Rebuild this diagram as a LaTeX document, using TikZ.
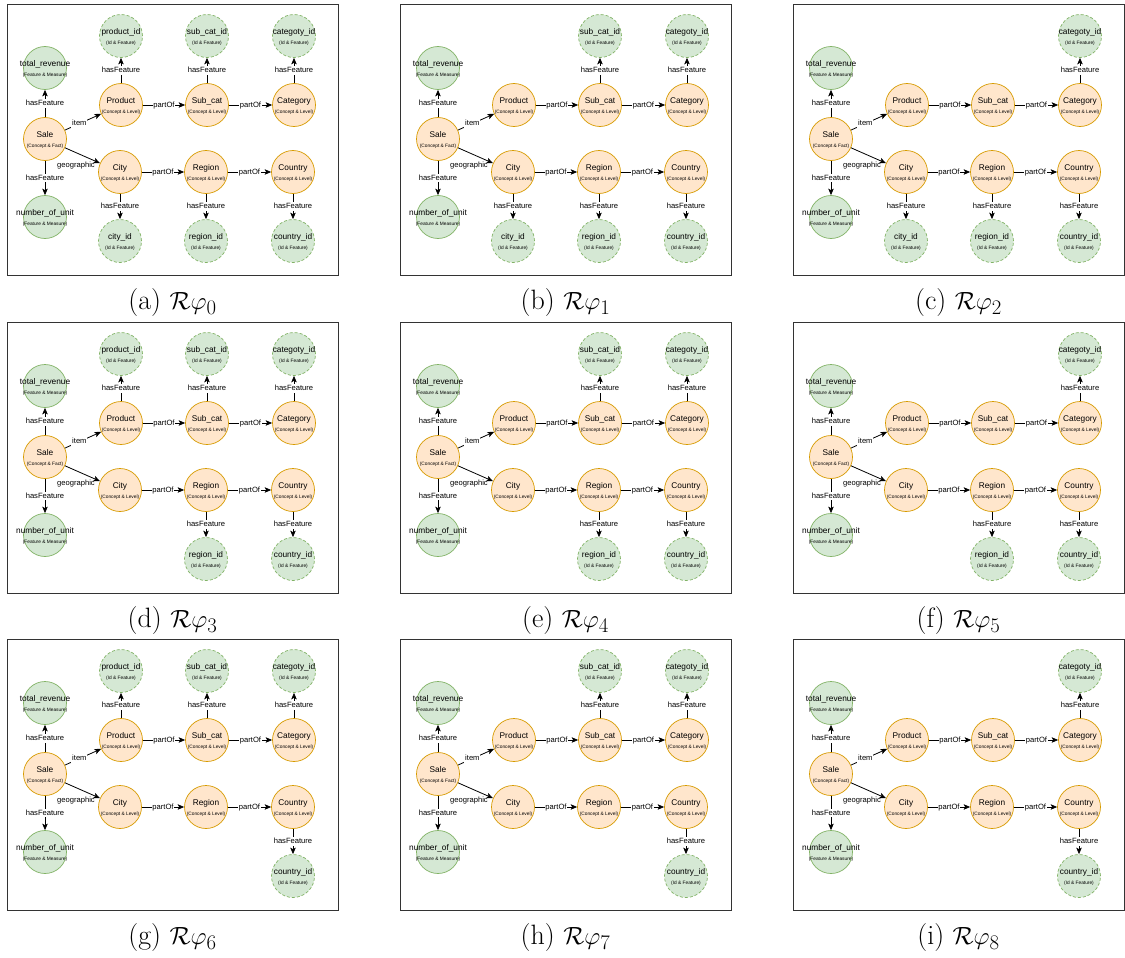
\documentclass[tikz,border=0pt]{standalone}
\usepackage{fontspec}
\newfontfamily\diagfont{Liberation Sans}
\usetikzlibrary{arrows.meta}

\definecolor{conceptfill}{HTML}{FFE6CC}
\definecolor{conceptdraw}{HTML}{D79B00}
\definecolor{featurefill}{HTML}{D5E8D4}
\definecolor{featuredraw}{HTML}{82B366}

\tikzset{
  concept/.style={circle, minimum size=43pt, inner sep=0pt, fill=conceptfill, draw=conceptdraw, line width=0.7pt},
  measure/.style={concept, fill=featurefill, draw=featuredraw},
  ident/.style={measure, dash pattern=on 3pt off 2pt},
  ttl/.style={font=\diagfont\fontsize{8.3}{9}\selectfont, inner sep=0pt, text height=6pt, text depth=0pt, yshift=4.5pt},
  subttl/.style={font=\diagfont\fontsize{4.8}{5}\selectfont, inner sep=0pt, text height=3.5pt, text depth=0pt, yshift=-6.5pt},
  link/.style={draw=black, line width=0.8pt, -{Stealth[length=6.5pt,width=5.5pt,inset=1.5pt]}},
  elabel/.style={font=\diagfont\fontsize{7.6}{8}\selectfont, fill=white, inner sep=0.8pt, text height=5.5pt, text depth=1.5pt},
  panelframe/.style={draw=black!80, line width=1.2pt, minimum width=331pt, minimum height=271pt, inner sep=0pt, anchor=north west},
  captiontext/.style={font=\fontsize{28}{32}\selectfont, inner sep=0pt},
}

% circle node with a title and a small subtitle
\newcommand\cnode[5]{\node[#1, label={[ttl]center:#4}, label={[subttl]center:#5}] (#2) at (#3) {};}

% one panel: #1 letter, #2/#3 top-left corner, #4 index,
% #5..#8 switches for product_id, sub_cat_id, city_id, region_id
\newcommand\panel[8]{%
\begin{scope}[shift={(#2,#3)}]
  \node[panelframe] (#1-frame) at (0,0) {};
  \cnode{concept}{#1-sale}{38,135}{Sale}{(Concept \& Fact)}
  \cnode{measure}{#1-rev}{38,64}{total\_revenue}{(Feature \& Measure)}
  \cnode{measure}{#1-units}{38,213}{number\_of\_unit}{(Feature \& Measure)}
  \cnode{concept}{#1-product}{114,101}{Product}{(Concept \& Level)}
  \cnode{concept}{#1-subcat}{200,101}{Sub\_cat}{(Concept \& Level)}
  \cnode{concept}{#1-category}{287,101}{Category}{(Concept \& Level)}
  \cnode{concept}{#1-city}{113,168}{City}{(Concept \& Level)}
  \cnode{concept}{#1-region}{199,168}{Region}{(Concept \& Level)}
  \cnode{concept}{#1-country}{286,168}{Country}{(Concept \& Level)}
  \cnode{ident}{#1-catid}{287,32}{categoty\_id}{(Id \& Feature)}
  \cnode{ident}{#1-countryid}{286,237}{country\_id}{(Id \& Feature)}
  \draw[link] (#1-sale) -- node[elabel]{hasFeature} (#1-rev);
  \draw[link] (#1-sale) -- node[elabel]{hasFeature} (#1-units);
  \draw[link] (#1-sale) -- node[elabel, pos=0.4]{item} (#1-product);
  \draw[link] (#1-sale) -- node[elabel, fill=none, at end, anchor=north east, xshift=-4pt, yshift=2pt]{geographic} (#1-city);
  \draw[link] (#1-product) -- node[elabel]{partOf} (#1-subcat);
  \draw[link] (#1-subcat) -- node[elabel]{partOf} (#1-category);
  \draw[link] (#1-city) -- node[elabel]{partOf} (#1-region);
  \draw[link] (#1-region) -- node[elabel]{partOf} (#1-country);
  \draw[link] (#1-category) -- node[elabel]{hasFeature} (#1-catid);
  \draw[link] (#1-country) -- node[elabel]{hasFeature} (#1-countryid);
  \ifnum#5=1
    \cnode{ident}{#1-productid}{114,32}{product\_id}{(Id \& Feature)}
    \draw[link] (#1-product) -- node[elabel]{hasFeature} (#1-productid);
  \fi
  \ifnum#6=1
    \cnode{ident}{#1-subcatid}{200,32}{sub\_cat\_id}{(Id \& Feature)}
    \draw[link] (#1-subcat) -- node[elabel]{hasFeature} (#1-subcatid);
  \fi
  \ifnum#7=1
    \cnode{ident}{#1-cityid}{113,237}{city\_id}{(Id \& Feature)}
    \draw[link] (#1-city) -- node[elabel]{hasFeature} (#1-cityid);
  \fi
  \ifnum#8=1
    \cnode{ident}{#1-regionid}{199,237}{region\_id}{(Id \& Feature)}
    \draw[link] (#1-region) -- node[elabel]{hasFeature} (#1-regionid);
  \fi
  \node[captiontext] (#1-caption) at (165.5,299) {(#1) $\mathcal{R}\varphi_{#4}$};
\end{scope}}

\begin{document}
\begin{tikzpicture}[x=1pt, y=-1pt]
  \useasboundingbox[fill=white] (0,0) rectangle (1125,958);
  \panel{a}{7}{4}{0}{1}{1}{1}{1}
  \panel{b}{400}{4}{1}{0}{1}{1}{1}
  \panel{c}{793}{4}{2}{0}{0}{1}{1}
  \panel{d}{7}{322}{3}{1}{1}{0}{1}
  \panel{e}{400}{322}{4}{0}{1}{0}{1}
  \panel{f}{793}{322}{5}{0}{0}{0}{1}
  \panel{g}{7}{639}{6}{1}{1}{0}{0}
  \panel{h}{400}{639}{7}{0}{1}{0}{0}
  \panel{i}{793}{639}{8}{0}{0}{0}{0}
\end{tikzpicture}
\end{document}
